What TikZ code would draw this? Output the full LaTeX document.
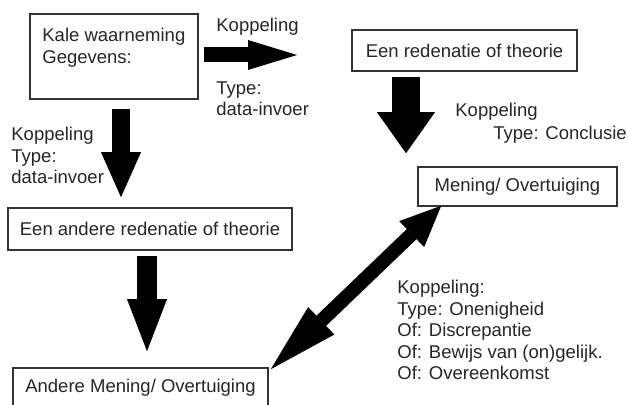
\documentclass[tikz,border=0pt]{standalone}
\usepackage{fontspec}
\setmainfont{Liberation Sans}
\usetikzlibrary{
  arrows.meta,
  calc,
}
\tikzset{
  every node/.style={font=\fontsize{9.25}{10.75}\selectfont, text=black!85},
  box/.style={draw=black!80, line width=0.75pt, inner sep=0pt},
  lbl/.style={align=left, inner sep=0pt, anchor=north west},
  fatarrow/.style n args={3}{draw=black, line width=#1,
    -{Triangle[length=#2, width=#3, line width=0pt]}},
  fatboth/.style={draw=black, line width=7pt,
    {Triangle[length=35pt, width=19pt, line width=0pt]}-{Triangle[length=20.5pt, width=18pt, line width=0pt]}},
}

\begin{document}
\begin{tikzpicture}[x=0.5pt, y=-0.5pt]
      \useasboundingbox (0, 0) rectangle (628, 405);

      \node [box, minimum width=84pt, minimum height=42.5pt] (kale) at (114, 56.5) {};
      \node [lbl] (kaletekst) at (42, 28) {Kale waarneming\\Gegevens:};
      \node [box, minimum width=112.5pt, minimum height=20.5pt] (theorie) at (464.5, 50.5) {Een redenatie of theorie};
      \node [box, minimum width=99.5pt, minimum height=19.5pt] (mening) at (517.5, 186.5) {Mening/ Overtuiging};
      \node [box, minimum width=142pt, minimum height=21pt] (andere) at (150, 229) {Een andere redenatie of theorie};
      \node [box, minimum width=127.5pt, minimum height=20pt] (anderemening) at (140.5, 388) {Andere Mening/ Overtuiging};

      \node [lbl] (koppeling1) at (216, 18) {Koppeling};
      \node [lbl] (type1) at (216, 81) {Type:\\data-invoer};
      \node [lbl] (koppeling2) at (11, 127) {Koppeling\\Type:\\data-invoer};
      \node [lbl] (koppeling3) at (455, 103) {Koppeling};
      \node [lbl] (type3) at (493, 126) {Type: Conclusie};
      \node [lbl] (koppeling4) at (397, 280) {Koppeling:\\Type: Onenigheid\\Of: Discrepantie\\Of: Bewijs van (on)gelijk.\\Of: Overeenkomst};

      \coordinate (rechts) at (297, 55);
      \draw [fatarrow={7.5pt}{24.5pt}{15pt}] ($(kale.east) + (5, -1.5)$) -- (rechts);
      \draw [fatarrow={9pt}{22.5pt}{20pt}] ($(kale.south) + (7, 9)$) -- ($(andere.north) + (-29, -10)$);
      \draw [fatarrow={14pt}{20.5pt}{29pt}] ($(theorie.south) + (-58.5, 5)$) -- ($(mening.north) + (-111.5, -13)$);
      \draw [fatarrow={10pt}{26pt}{20pt}] ($(andere.south) + (-3, 5)$) -- ($(anderemening.north) + (6.5, -16)$);
      \draw [fatboth] ($(anderemening.north east) + (2, 2)$) -- ($(mening.south west) + (24, -1)$);
    \end{tikzpicture}
\end{document}
